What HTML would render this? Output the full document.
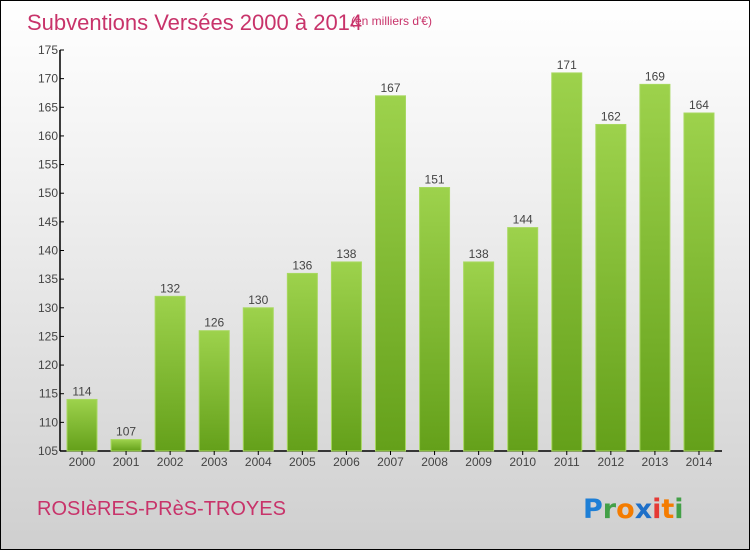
<!DOCTYPE html>
<html><head><meta charset="utf-8"><style>
body{margin:0}
#c{position:relative;width:748px;height:548px;border:1px solid #000;background:linear-gradient(#fff,#f2f2f2 30%,#cfcfcf);font-family:"Liberation Sans",sans-serif;overflow:hidden}
</style></head><body>
<div id="c">
<svg width="748" height="548" style="position:absolute;left:0;top:0" id="svg">
<defs><linearGradient id="g" x1="0" y1="0" x2="0" y2="1"><stop offset="0" stop-color="#9dd24c"/><stop offset="1" stop-color="#64a01a"/></linearGradient></defs>
<text x="26" y="29" font-size="22" fill="#c8336a">Subventions Versées 2000 à 2014</text>
<text x="350" y="24" font-size="12" fill="#c8336a">(en milliers d'€)</text>
<text x="36" y="514" font-size="20" fill="#c8336a">ROSIèRES-PRèS-TROYES</text>
<g font-size="27" font-weight="bold" font-family="'DejaVu Sans',sans-serif">
<text x="582" y="517"><tspan fill="#1e7fd6">P</tspan><tspan fill="#43a047">r</tspan><tspan fill="#f47c00">o</tspan><tspan fill="#1e6fc8">x</tspan><tspan fill="#e53935">i</tspan><tspan fill="#f47c00">t</tspan><tspan fill="#43a047">i</tspan></text></g>
</svg>
</div>
<script>
const years=["2000","2001","2002","2003","2004","2005","2006","2007","2008","2009","2010","2011","2012","2013","2014"];
const values=[114,107,132,126,130,136,138,167,151,138,144,171,162,169,164];
const yTicks=[105,110,115,120,125,130,135,140,145,150,155,160,165,170,175];
const svg=document.getElementById('svg');
const NS='http://www.w3.org/2000/svg';
const y0=450,y1=49,vmin=105,vmax=175;
const yS=v=>y0-(v-vmin)/(vmax-vmin)*(y0-y1);
const xS=i=>81+i*44.07;
function mk(t,a){const e=document.createElementNS(NS,t);for(const k in a)e.setAttribute(k,a[k]);svg.appendChild(e);return e;}
let ax=mk('line',{x1:59,y1:y1,x2:59,y2:y0,stroke:'#000','stroke-width':1.5});


let xa=mk('line',{x1:59,y1:y0,x2:721,y2:y0,stroke:'#000','stroke-width':1.5});


yTicks.forEach(v=>{
 const t=mk('line',{x1:59,y1:yS(v),x2:63,y2:yS(v),stroke:'#000'});
 
 
 const l=mk('text',{x:57,y:yS(v)+4,'font-size':12,fill:'#444','text-anchor':'end'});
 l.textContent=v;
 
 
});
values.forEach((v,i)=>{
 const x=xS(i);
 const r=mk('rect',{x:x-15,y:yS(v),width:30,height:y0-yS(v),fill:'url(#g)',stroke:'#a8d860','stroke-width':1});
 
 
 const vl=mk('text',{x:x,y:yS(v)-4,'font-size':12,fill:'#444','text-anchor':'middle'});
 vl.textContent=v;
 
 
 const tk=mk('line',{x1:x,y1:y0,x2:x,y2:y0+4,stroke:'#000'});
 
 
 const xl=mk('text',{x:x,y:465,'font-size':12,fill:'#444','text-anchor':'middle'});
 xl.textContent=years[i];
 
 
});
</script>
</body></html>
